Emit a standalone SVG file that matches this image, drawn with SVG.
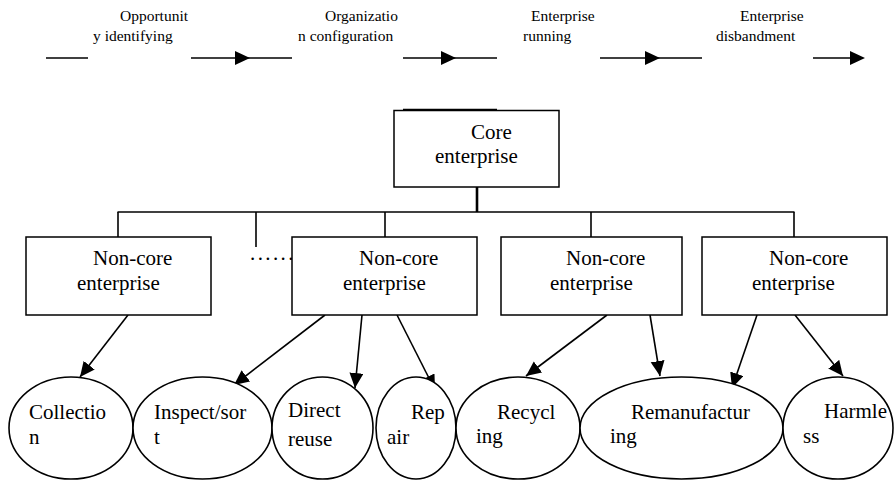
<svg xmlns="http://www.w3.org/2000/svg" width="894" height="481" viewBox="0 0 894 481">
<style>
text{font-family:'Liberation Serif','Times New Roman',Tinos,'Noto Serif','DejaVu Serif',serif;fill:#000}
.lbl{font-size:15.5px}
.t{font-size:21px}
.box{fill:#fff;stroke:#000;stroke-width:1.5}
.ell{fill:#fff;stroke:#000;stroke-width:1.6}
.ln{stroke:#000;stroke-width:1.6;fill:none}
.ah{fill:#000}
</style>
<defs>
<marker id="arr" markerUnits="userSpaceOnUse" markerWidth="16" markerHeight="15" refX="15" refY="7" orient="auto">
<path d="M0,0 L15,7 L0,14 Z" fill="#000"/>
</marker>
</defs>
<rect width="894" height="481" fill="#fff"/>
<g id="timeline">
<line class="ln" x1="46" y1="58" x2="88" y2="58"/>
<line class="ln" x1="191" y1="58" x2="292" y2="58"/>
<path class="ah" d="M235,51 L250,58 L235,65 Z"/>
<line class="ln" x1="403" y1="58" x2="497" y2="58"/>
<path class="ah" d="M441,51 L456,58 L441,65 Z"/>
<line class="ln" x1="600" y1="58" x2="702" y2="58"/>
<path class="ah" d="M645,51 L660,58 L645,65 Z"/>
<line class="ln" x1="813" y1="58" x2="851" y2="58"/>
<path class="ah" d="M850,51 L865,58 L850,65 Z"/>
<text class="lbl" x="120" y="21">Opportunit</text>
<text class="lbl" x="93" y="41">y identifying</text>
<text class="lbl" x="325" y="21">Organizatio</text>
<text class="lbl" x="298" y="41">n configuration</text>
<text class="lbl" x="531" y="21">Enterprise</text>
<text class="lbl" x="523" y="41">running</text>
<text class="lbl" x="740" y="21">Enterprise</text>
<text class="lbl" x="716" y="41">disbandment</text>
</g>
<g id="connectors">
<line class="ln" x1="403" y1="109.5" x2="497" y2="109.5"/>
<line x1="477" y1="187" x2="477" y2="212" stroke="#000" stroke-width="2.6"/>
<line class="ln" x1="117.5" y1="212" x2="794.5" y2="212"/>
<line class="ln" x1="118" y1="212" x2="118" y2="237"/>
<line class="ln" x1="256" y1="212" x2="256" y2="247"/>
<line class="ln" x1="385" y1="212" x2="385" y2="237"/>
<line class="ln" x1="591" y1="212" x2="591" y2="237"/>
<line class="ln" x1="794" y1="212" x2="794" y2="237"/>
<line class="ln" x1="128" y1="315" x2="80" y2="377" marker-end="url(#arr)"/>
<line class="ln" x1="325" y1="315" x2="234" y2="385" marker-end="url(#arr)"/>
<line class="ln" x1="362" y1="315" x2="355" y2="388" marker-end="url(#arr)"/>
<line class="ln" x1="397" y1="315" x2="435" y2="390" marker-end="url(#arr)"/>
<line class="ln" x1="607" y1="315" x2="526" y2="376" marker-end="url(#arr)"/>
<line class="ln" x1="650" y1="315" x2="660" y2="376" marker-end="url(#arr)"/>
<line class="ln" x1="757" y1="315" x2="732" y2="388" marker-end="url(#arr)"/>
<line class="ln" x1="795" y1="315" x2="843" y2="376" marker-end="url(#arr)"/>
</g>
<g id="core">
<rect class="box" x="394" y="110.5" width="165" height="76.5"/>
<text class="t" x="471" y="139">Core</text>
<text class="t" x="435" y="163">enterprise</text>
</g>
<g id="noncore1">
<rect class="box" x="26" y="237" width="185" height="78"/>
<text class="t" x="93" y="265">Non-core</text>
<text class="t" x="77" y="290">enterprise</text>
</g>
<g id="dots">
<text class="t" x="250" y="260" letter-spacing="2.4">......</text>
</g>
<g id="noncore2">
<rect class="box" x="292" y="237" width="185" height="78"/>
<text class="t" x="359" y="265">Non-core</text>
<text class="t" x="343" y="290">enterprise</text>
</g>
<g id="noncore3">
<rect class="box" x="501" y="237" width="181" height="78"/>
<text class="t" x="566" y="265">Non-core</text>
<text class="t" x="550" y="290">enterprise</text>
</g>
<g id="noncore4">
<rect class="box" x="702" y="237" width="185" height="78"/>
<text class="t" x="769" y="265">Non-core</text>
<text class="t" x="752" y="290">enterprise</text>
</g>
<g id="collection">
<ellipse class="ell" cx="71" cy="428" rx="62" ry="51"/>
<text class="t" x="29" y="419">Collectio</text>
<text class="t" x="29" y="444">n</text>
</g>
<g id="inspect">
<ellipse class="ell" cx="202.5" cy="428" rx="69.5" ry="51"/>
<text class="t" x="154" y="419">Inspect/sor</text>
<text class="t" x="154" y="444">t</text>
</g>
<g id="reuse">
<ellipse class="ell" cx="322.5" cy="428" rx="50.5" ry="51"/>
<text class="t" x="288" y="417">Direct</text>
<text class="t" x="288" y="446">reuse</text>
</g>
<g id="repair">
<ellipse class="ell" cx="416" cy="428" rx="40" ry="51"/>
<text class="t" x="411" y="419">Rep</text>
<text class="t" x="387" y="444">air</text>
</g>
<g id="recycling">
<ellipse class="ell" cx="518" cy="428" rx="62" ry="51"/>
<text class="t" x="497" y="419">Recycl</text>
<text class="t" x="476" y="443">ing</text>
</g>
<g id="reman">
<ellipse class="ell" cx="681.5" cy="428" rx="101.5" ry="51"/>
<text class="t" x="631" y="419">Remanufactur</text>
<text class="t" x="610" y="443">ing</text>
</g>
<g id="harmless">
<ellipse class="ell" cx="838" cy="428" rx="55" ry="51"/>
<text class="t" x="824" y="418">Harmle</text>
<text class="t" x="803" y="443">ss</text>
</g>
</svg>
